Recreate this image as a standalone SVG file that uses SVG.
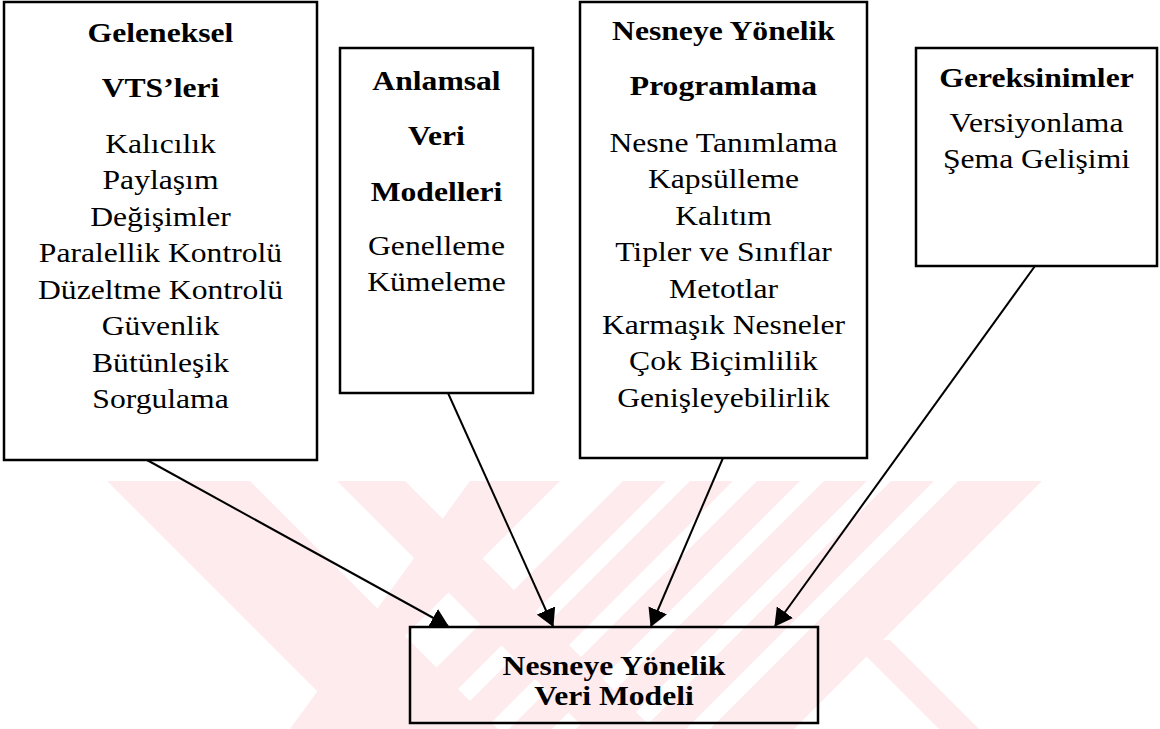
<svg xmlns="http://www.w3.org/2000/svg" width="1160" height="729" viewBox="0 0 1160 729">
  <style>
    .box { fill: none; stroke: #000; stroke-width: 2.5; }
    .h { font-family: "Liberation Serif", "Times New Roman", serif; font-size: 28px; font-weight: bold; text-anchor: middle; fill: #000; }
    .t { font-family: "Liberation Serif", "Times New Roman", serif; font-size: 28px; text-anchor: middle; fill: #000; }
    .wm { fill: #fdebee; }
    .conn { stroke: #000; stroke-width: 2; fill: none; marker-end: url(#arrow); }
  </style>
  <defs>
    <marker id="arrow" markerUnits="userSpaceOnUse" viewBox="0 0 18 20" refX="17" refY="10" markerWidth="18" markerHeight="20" orient="auto">
      <path d="M0,0 L18,10 L0,20 z" fill="#000"/>
    </marker>
  </defs>
  <rect width="1160" height="729" fill="#fff"/>

  <g id="watermark">
    <polygon class="wm" points="107,481 250,481 498,729 355,729"/>
    <polygon class="wm" points="337,481 405,481 653,729 585,729"/>
    <polygon class="wm" points="470,481 560,481 360,681 360,729 290,729"/>
    <polygon class="wm" points="623,481 666,481 418,729 375,729"/>
    <polygon class="wm" points="690,481 733,481 485,729 442,729"/>
    <polygon class="wm" points="757,481 800,481 552,729 509,729"/>
    <polygon class="wm" points="824,481 867,481 619,729 576,729"/>
    <polygon class="wm" points="891,481 934,481 686,729 643,729"/>
    <polygon class="wm" points="958,481 1042,481 794,729 710,729"/>
    <polygon class="wm" points="850,640 890,640 979,729 939,729"/>
  </g>

  <g id="connectors">
    <line class="conn" x1="147" y1="460" x2="448" y2="626"/>
    <line class="conn" x1="448" y1="393" x2="553" y2="626"/>
    <line class="conn" x1="723" y1="458" x2="651" y2="626"/>
    <line class="conn" x1="1035" y1="266" x2="775" y2="626"/>
  </g>

  <g id="node-geleneksel">
    <rect class="box" x="4" y="2" width="313" height="458"/>
    <g transform="translate(160.5 0) scale(1.13 1)">
      <text class="h" x="0" y="42">Geleneksel</text>
      <text class="h" x="0" y="97">VTS’leri</text>
      <text class="t" x="0" y="153">Kalıcılık</text>
      <text class="t" x="0" y="189.5">Paylaşım</text>
      <text class="t" x="0" y="226">Değişimler</text>
      <text class="t" x="0" y="262.5">Paralellik Kontrolü</text>
      <text class="t" x="0" y="299">Düzeltme Kontrolü</text>
      <text class="t" x="0" y="335.5">Güvenlik</text>
      <text class="t" x="0" y="372">Bütünleşik</text>
      <text class="t" x="0" y="408.5">Sorgulama</text>
    </g>
  </g>

  <g id="node-anlamsal">
    <rect class="box" x="340" y="48" width="193" height="345"/>
    <g transform="translate(436.5 0) scale(1.13 1)">
      <text class="h" x="0" y="90">Anlamsal</text>
      <text class="h" x="0" y="145">Veri</text>
      <text class="h" x="0" y="201">Modelleri</text>
      <text class="t" x="0" y="255">Genelleme</text>
      <text class="t" x="0" y="291">Kümeleme</text>
    </g>
  </g>

  <g id="node-nyp">
    <rect class="box" x="580" y="2" width="287" height="456"/>
    <g transform="translate(723.5 0) scale(1.13 1)">
      <text class="h" x="0" y="40">Nesneye Yönelik</text>
      <text class="h" x="0" y="95">Programlama</text>
      <text class="t" x="0" y="152">Nesne Tanımlama</text>
      <text class="t" x="0" y="188.4">Kapsülleme</text>
      <text class="t" x="0" y="224.8">Kalıtım</text>
      <text class="t" x="0" y="261.2">Tipler ve Sınıflar</text>
      <text class="t" x="0" y="297.6">Metotlar</text>
      <text class="t" x="0" y="334">Karmaşık Nesneler</text>
      <text class="t" x="0" y="370.4">Çok Biçimlilik</text>
      <text class="t" x="0" y="406.8">Genişleyebilirlik</text>
    </g>
  </g>

  <g id="node-gereksinimler">
    <rect class="box" x="916" y="48" width="241" height="218"/>
    <g transform="translate(1036.5 0) scale(1.13 1)">
      <text class="h" x="0" y="87">Gereksinimler</text>
      <text class="t" x="0" y="132">Versiyonlama</text>
      <text class="t" x="0" y="168">Şema Gelişimi</text>
    </g>
  </g>

  <g id="node-nyvm">
    <rect class="box" x="410" y="627" width="408" height="96"/>
    <g transform="translate(614 0) scale(1.13 1)">
      <text class="h" x="0" y="675">Nesneye Yönelik</text>
      <text class="h" x="0" y="705">Veri Modeli</text>
    </g>
  </g>
</svg>
